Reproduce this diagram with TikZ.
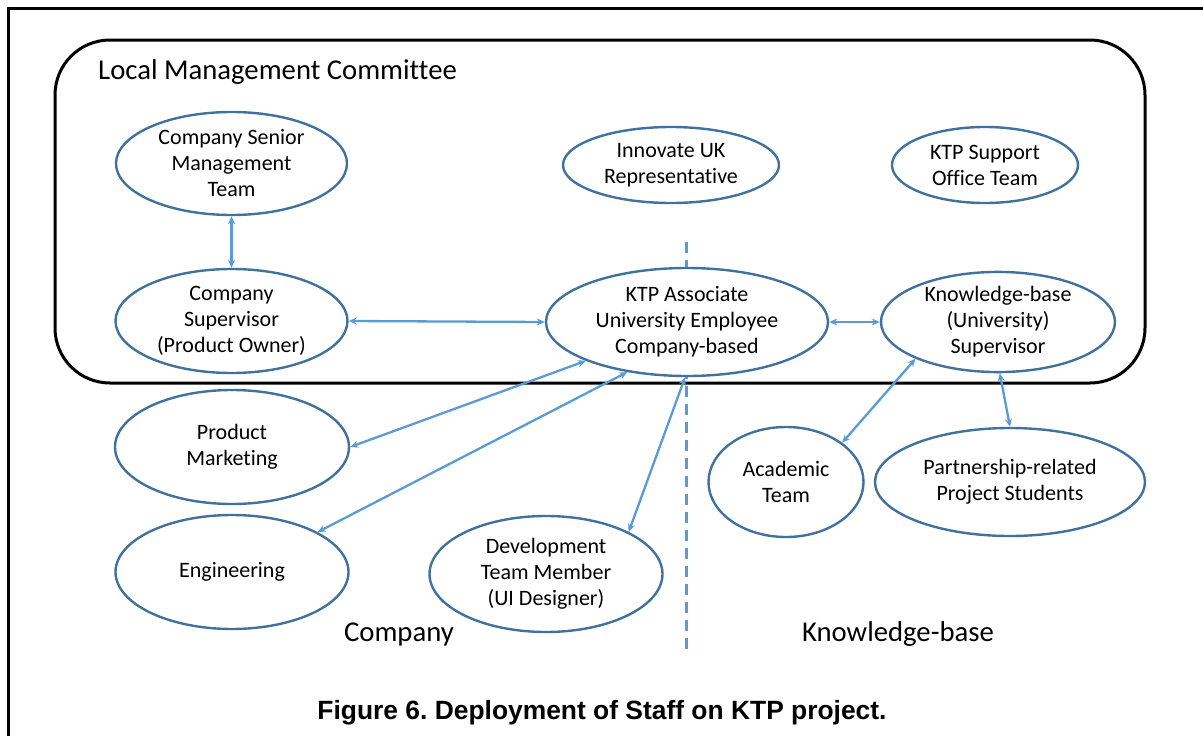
\documentclass[tikz,border=0pt]{standalone}
\usepackage{fontspec}
\setmainfont{Carlito}[Ligatures=CommonOff]
\newfontfamily\capfont{Liberation Sans}
\usetikzlibrary{shapes.geometric,arrows.meta}
\definecolor{ellblue}{HTML}{41719C}
\definecolor{arrblue}{HTML}{5B9BD5}
\frenchspacing
\begin{document}
\begin{tikzpicture}[x=1pt,y=-1pt,
  role/.style={ellipse,draw=ellblue,line width=2.4pt,fill=white,inner sep=0pt,align=center,font=\fontsize{22}{26}\selectfont},
  link/.style={draw=arrblue,line width=2.3pt,{Stealth[length=8pt,width=7pt]}-{Stealth[length=8pt,width=7pt]}},
  lbl/.style={font=\fontsize{28.7}{34}\selectfont,inner sep=0pt},
  divider/.style={draw=arrblue,line width=3pt,dash pattern=on 11pt off 7pt}]
\useasboundingbox (0,0) rectangle (1203,736);
\draw[line width=3pt] (8,736) -- (8,8) -- (1203,8);
\draw[line width=3pt,rounded corners=55pt] (55,40) rectangle (1145,383);
\coordinate (dtop) at (686,242);
\coordinate (dbot) at (686,650);
\draw[divider] (dtop) -- (dbot);

\node[lbl,anchor=base west] (lmc) at (98,79) {Local Management Committee};

\node[role,minimum width=231pt,minimum height=103pt] (csmt) at (231.5,163.5) {Company Senior\\Management\\Team};
\node[role,minimum width=216pt,minimum height=76pt] (iuk) at (671,165) {Innovate UK\\Representative};
\node[role,minimum width=186pt,minimum height=76pt] (kso) at (985,165) {KTP Support\\Office Team};
\node[role,minimum width=232pt,minimum height=104pt] (cs) at (231.5,321) {Company\\Supervisor\\(Product Owner)};
\node[role,minimum width=282pt,minimum height=108pt] (ktp) at (687,322) {KTP Associate\\University Employee\\Company-based};
\node[role,minimum width=234pt,minimum height=100pt] (kbs) at (998,322) {Knowledge-base\\(University)\\Supervisor};
\node[role,minimum width=234pt,minimum height=114pt] (pm) at (232,447) {Product\\Marketing};
\node[role,minimum width=233pt,minimum height=114pt] (eng) at (232,572) {Engineering};
\node[role,minimum width=233pt,minimum height=116pt] (dev) at (546,574) {Development\\Team Member\\(UI Designer)};
\node[role,minimum width=155pt,minimum height=110pt] (acad) at (786,482) {Academic\\Team};
\node[role,minimum width=270pt,minimum height=108pt] (prs) at (1010,482) {Partnership-related\\Project Students};

\draw[link] (csmt.south) -- (cs.north);
\draw[link] (cs.east) -- (ktp.west);
\draw[link] (ktp.east) -- (kbs.west);
\draw[link] (pm.east) -- (ktp.201.8);
\draw[link] (eng.25) -- (ktp.220);
\draw[link] (dev.27) -- (ktp.268);
\draw[link] (kbs.204) -- (acad.35);
\draw[link] (kbs.272) -- (prs.north);

\node[lbl,anchor=base] (comp) at (399,641) {Company};
\node[lbl,anchor=base] (kb) at (898,641) {Knowledge-base};
\node[anchor=base,inner sep=0pt,font=\capfont\bfseries\fontsize{26.4}{30}\selectfont] (cap) at (602,719) {Figure 6. Deployment of Staff on KTP project.};
\end{tikzpicture}
\end{document}
